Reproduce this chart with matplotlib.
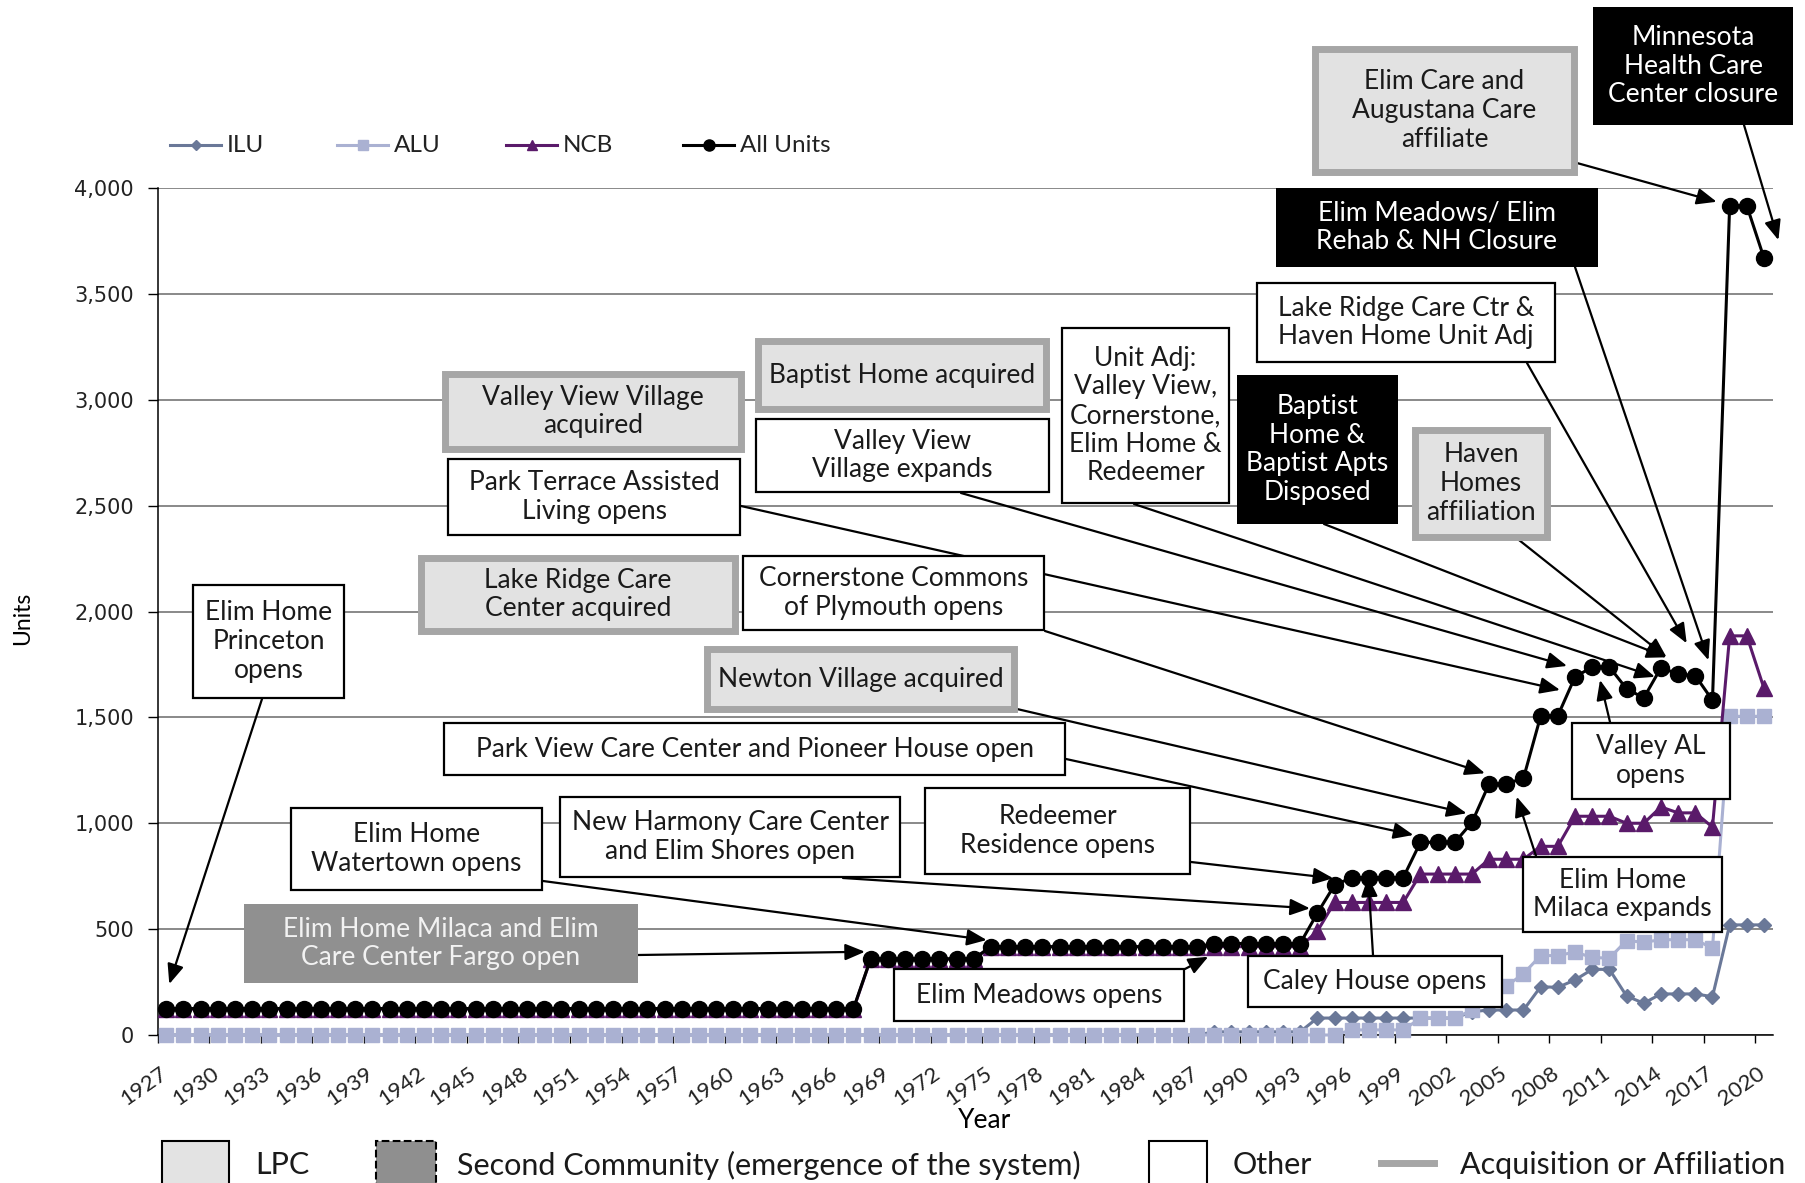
import numpy as np
import matplotlib.pyplot as plt
import matplotlib.transforms as mtransforms
from matplotlib.patches import Rectangle, FancyArrowPatch
from matplotlib.lines import Line2D

# Units per year (1927-2020)
years = list(range(1927, 2021))

ilu = [
    0, 0, 0, 0, 0, 0, 0, 0, 0, 0,              # 1927-1936
    0, 0, 0, 0, 0, 0, 0, 0, 0, 0,              # 1937-1946
    0, 0, 0, 0, 0, 0, 0, 0, 0, 0,              # 1947-1956
    0, 0, 0, 0, 0, 0, 0, 0, 0, 0,              # 1957-1966
    0, 0, 0, 0, 0, 0, 0, 0, 0, 0,              # 1967-1976
    0, 0, 0, 0, 0, 0, 0, 0, 0, 0,              # 1977-1986
    0, 15, 15, 15, 15, 15, 15, 80, 80, 80,     # 1987-1996
    80, 80, 80, 80, 80, 80, 110, 118, 118, 118,  # 1997-2006
    228, 225, 260, 310, 310, 184, 150, 194, 194, 194,  # 2007-2016
    181, 520, 520, 520,                        # 2017-2020
]

alu = [
    0, 0, 0, 0, 0, 0, 0, 0, 0, 0,
    0, 0, 0, 0, 0, 0, 0, 0, 0, 0,
    0, 0, 0, 0, 0, 0, 0, 0, 0, 0,
    0, 0, 0, 0, 0, 0, 0, 0, 0, 0,
    0, 0, 0, 0, 0, 0, 0, 0, 0, 0,
    0, 0, 0, 0, 0, 0, 0, 0, 0, 0,
    0, 0, 0, 0, 0, 0, 0, 0, 0, 24,
    24, 24, 24, 79, 79, 79, 118, 200, 230, 290,
    375, 375, 392, 366, 363, 446, 438, 450, 450, 450,
    410, 1505, 1505, 1505,
]

ncb = [
    122, 122, 122, 122, 122, 122, 122, 122, 122, 122,
    122, 122, 122, 122, 122, 122, 122, 122, 122, 122,
    122, 122, 122, 122, 122, 122, 122, 122, 122, 122,
    122, 122, 122, 122, 122, 122, 122, 122, 122, 122,
    122, 358, 358, 358, 358, 358, 358, 358, 417, 417,
    417, 417, 417, 417, 417, 417, 417, 417, 417, 417,
    417, 417, 417, 417, 417, 417, 417, 490, 626, 626,
    626, 626, 626, 760, 760, 760, 760, 830, 830, 830,
    891, 891, 1033, 1033, 1033, 1000, 1000, 1077, 1049, 1049,
    982, 1885, 1885, 1637,
]

all_units = [
    125, 125, 125, 125, 125, 125, 125, 125, 125, 125,
    125, 125, 125, 125, 125, 125, 125, 125, 125, 125,
    125, 125, 125, 125, 125, 125, 125, 125, 125, 125,
    125, 125, 125, 125, 125, 125, 125, 125, 125, 125,
    125, 360, 360, 360, 360, 360, 360, 360, 417, 417,
    417, 417, 417, 417, 417, 417, 417, 417, 417, 417,
    417, 432, 432, 432, 432, 432, 432, 575, 708, 743,
    743, 743, 743, 910, 910, 910, 1004, 1186, 1186, 1213,
    1506, 1508, 1691, 1738, 1738, 1635, 1592, 1734, 1705, 1697,
    1581, 3916, 3916, 3669,
]

ILU_C = '#6a7898'
ALU_C = '#aab1d2'
NCB_C = '#5a1a6a'
ALL_C = '#000000'

W, H = 1805, 1183
plt.rcParams['font.family'] = ['Lato', 'DejaVu Sans']
fig = plt.figure(figsize=(W / 100, H / 100), dpi=100)


def fx(x):
    return x / W


def fy(y):
    # y measured from the top of the picture
    return 1 - y / H


ax = fig.add_axes([fx(157.7), fy(1035), (1772.6 - 157.7) / W, (1035 - 188) / H])
ax.set_xlim(1926.5, 2020.5)
ax.set_ylim(0, 4000)

ax.plot(years, ilu, color=ILU_C, lw=2.2, marker='D', ms=7.5, zorder=3, clip_on=False)
ax.plot(years, alu, color=ALU_C, lw=2.2, marker='s', ms=10.5, zorder=4, clip_on=False)
ax.plot(years, ncb, color=NCB_C, lw=2.2, marker='^', ms=11, zorder=5, clip_on=False)
ax.plot(years, all_units, color=ALL_C, lw=2.2, marker='o', ms=11.5, zorder=6, clip_on=False)

# axes styling
ax.set_yticks(range(0, 4001, 500))
ax.set_yticklabels([f'{v:,}' for v in range(0, 4001, 500)], family='DejaVu Sans',
                   fontsize=15, color='#222222')
ax.yaxis.grid(True, color='#6a6a6a', lw=1.1)
ax.set_axisbelow(True)
ax.tick_params(axis='y', length=7, width=1, pad=10)

ax.set_xticks(years[::3])
ax.set_xticklabels([str(y) for y in years[::3]], rotation=35, ha='right', va='top',
                   rotation_mode='anchor', fontsize=16, color='#222222')
ax.set_xticks(np.arange(1926.5, 2021, 3), minor=True)
ax.tick_params(axis='x', which='major', length=0, pad=17)
ax.tick_params(axis='x', which='minor', length=6, width=1)
shift = mtransforms.ScaledTranslation(-7 / 100, -5 / 100, fig.dpi_scale_trans)
for lbl in ax.get_xticklabels():
    lbl.set_transform(lbl.get_transform() + shift)
for side in ('top', 'right'):
    ax.spines[side].set_visible(False)
for side in ('left', 'bottom'):
    ax.spines[side].set_color('black')
    ax.spines[side].set_linewidth(1.1)

fig.text(fx(23), fy(618), 'Units', rotation=90, ha='center', va='center', fontsize=16.5)
fig.text(fx(985), fy(1120), 'Year', ha='center', va='center', fontsize=19)

# top legend
legend_items = [('ILU', ILU_C, 'D', 5.0, 170), ('ALU', ALU_C, 's', 7.0, 337),
                ('NCB', NCB_C, '^', 7.0, 506), ('All Units', ALL_C, 'o', 8.0, 683)]
for label, c, m, ms, x0 in legend_items:
    fig.add_artist(Line2D([fx(x0), fx(x0 + 51)], [fy(145)] * 2, transform=fig.transFigure,
                          color=c, lw=2.2))
    fig.add_artist(Line2D([fx(x0 + 25.5)], [fy(145)], transform=fig.transFigure,
                          color=c, marker=m, ms=ms, lw=0))
    fig.text(fx(x0 + 57), fy(145), label, ha='left', va='center', fontsize=17.5,
             color='#222222')

# annotation boxes
STYLE = {
    'other': dict(fc='white', ec='black', lw=1.6, tc='#1a1a1a'),
    'lpc': dict(fc='#e2e2e2', ec='#a6a6a6', lw=5.0, tc='#1a1a1a'),
    'second': dict(fc='#909090', ec='none', lw=0.0, tc='#f2f2f2'),
    'black': dict(fc='black', ec='none', lw=0.0, tc='white'),
}

boxes = [
    (192, 584, 345, 699, 'Elim Home\nPrinceton\nopens', 'other'),
    (244, 904, 638, 983, 'Elim Home Milaca and Elim\nCare Center Fargo open', 'second'),
    (290, 807, 543, 891, 'Elim Home\nWatertown opens', 'other'),
    (559, 796, 901, 878, 'New Harmony Care Center\nand Elim Shores open', 'other'),
    (924, 787, 1191, 875, 'Redeemer\nResidence opens', 'other'),
    (893, 968, 1185, 1022, 'Elim Meadows opens', 'other'),
    (1247, 955, 1503, 1008, 'Caley House opens', 'other'),
    (443, 722, 1066, 776, 'Park View Care Center and Pioneer House open', 'other'),
    (704, 646, 1017, 712, 'Newton Village acquired', 'lpc'),
    (418, 555, 738, 634, 'Lake Ridge Care\nCenter acquired', 'lpc'),
    (742, 555, 1045, 631, 'Cornerstone Commons\nof Plymouth opens', 'other'),
    (447, 458, 741, 536, 'Park Terrace Assisted\nLiving opens', 'other'),
    (442, 371, 744, 452, 'Valley View Village\nacquired', 'lpc'),
    (755, 338, 1049, 412, 'Baptist Home acquired', 'lpc'),
    (755, 418, 1050, 493, 'Valley View\nVillage expands', 'other'),
    (1061, 327, 1230, 504, 'Unit Adj:\nValley View,\nCornerstone,\nElim Home &\nRedeemer', 'other'),
    (1237, 375, 1398, 524, 'Baptist\nHome &\nBaptist Apts\nDisposed', 'black'),
    (1412, 427, 1550, 540, 'Haven\nHomes\naffiliation', 'lpc'),
    (1256, 282, 1556, 363, 'Lake Ridge Care Ctr &\nHaven Home Unit Adj', 'other'),
    (1276, 188, 1598, 267, 'Elim Meadows/ Elim\nRehab & NH Closure', 'black'),
    (1312, 46, 1577, 175, 'Elim Care and\nAugustana Care\naffiliate', 'lpc'),
    (1593, 7, 1793, 125, 'Minnesota\nHealth Care\nCenter closure', 'black'),
    (1571, 722, 1731, 800, 'Valley AL\nopens', 'other'),
    (1522, 856, 1723, 933, 'Elim Home\nMilaca expands', 'other'),
]

for x0, y0, x1, y1, text, kind in boxes:
    s = STYLE[kind]
    ins = s['lw'] * 100 / 72 / 2
    fig.add_artist(Rectangle((fx(x0 + ins), fy(y1 - ins)), (x1 - x0 - 2 * ins) / W,
                             (y1 - y0 - 2 * ins) / H, transform=fig.transFigure,
                             facecolor=s['fc'], edgecolor=s['ec'], linewidth=s['lw'],
                             zorder=4))
    t = fig.text(fx((x0 + x1) / 2), fy((y0 + y1) / 2), text, ha='center', va='center',
                 ma='center', fontsize=19, color=s['tc'], linespacing=1.18)
    t.set_zorder(5)

# arrows: start on a box edge (picture px), end near a year's All Units point
arrows = [
    ((262, 699), 1927, (3, -24.5)),
    ((638, 955), 1968, (-5.7, -7)),
    ((543, 881), 1975, (-4.2, -6.7)),
    ((843, 878), 1994, (-7.4, -4.9)),
    ((1191, 862), 1995, (-1.2, -6.8)),
    ((1185, 969), 1988, (-6, 13.2)),
    ((1373, 955), 1997, (-0.7, -1)),
    ((1066, 759), 2000, (-7, -7.3)),
    ((1017, 709), 2003, (-5.3, -9.1)),
    ((1045, 631), 2004, (-4.2, -10.6)),
    ((741, 506), 2009, (-15, 13)),
    ((961, 493), 2009, (-8, -11)),
    ((1134, 504), 2014, (-6, 9)),
    ((1324, 524), 2014, (5.7, -10.5)),
    ((1519, 540), 2014, (5.7, -10.5)),
    ((1527, 363), 2016, (-8.6, -32.4)),
    ((1575, 267), 2017, (-4, -40)),
    ((1577, 163), 2018, (-13, -4)),
    ((1744, 125), 2020, (14.4, -18)),
    ((1610, 722), 2010, (7.8, 13)),
    ((1536, 856), 2005, (10.4, 12.8)),
]

for (sx, sy), yr, (dx, dy) in arrows:
    px, py = ax.transData.transform((yr, all_units[years.index(yr)]))
    tip = ((px + dx) / W, (py - dy) / H)
    fig.add_artist(FancyArrowPatch((fx(sx), fy(sy)), tip, transform=fig.transFigure,
                                   arrowstyle='-|>,head_length=0.6,head_width=0.25',
                                   mutation_scale=20, lw=1.6, color='black',
                                   shrinkA=0, shrinkB=0, zorder=3.5))

# bottom legend
fig.add_artist(Rectangle((fx(162), fy(1200)), 67 / W, 59 / H, transform=fig.transFigure,
                         facecolor='#e3e3e3', edgecolor='black', lw=1.5))
fig.add_artist(Rectangle((fx(376), fy(1200)), 60 / W, 59 / H, transform=fig.transFigure,
                         facecolor='#8f8f8f', edgecolor='black', lw=1.5, linestyle='--'))
fig.add_artist(Rectangle((fx(1149), fy(1200)), 58 / W, 59 / H, transform=fig.transFigure,
                         facecolor='white', edgecolor='black', lw=1.5))
fig.add_artist(Line2D([fx(1381), fx(1434)], [fy(1163)] * 2, transform=fig.transFigure,
                      color='#a6a6a6', lw=5))
for x, label in [(255.5, 'LPC'), (457, 'Second Community (emergence of the system)'),
                 (1233, 'Other'), (1459.5, 'Acquisition or Affiliation')]:
    fig.text(fx(x), fy(1165), label, ha='left', va='center', fontsize=22, color='#1a1a1a')

fig.savefig('out.png', dpi=100, facecolor='white')
